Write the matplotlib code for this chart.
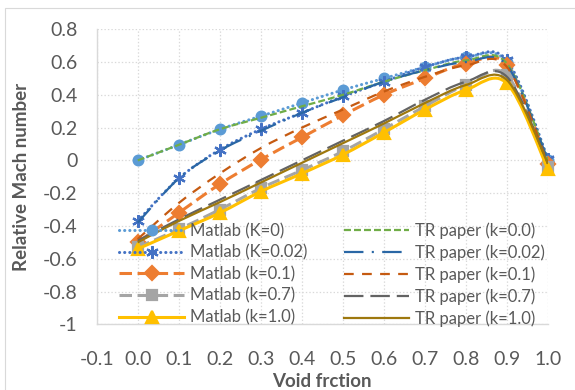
import numpy as np
import matplotlib
matplotlib.use("Agg")
import matplotlib.pyplot as plt
from matplotlib.path import Path
from matplotlib.patches import PathPatch, Rectangle
from matplotlib.lines import Line2D

plt.rcParams['font.family'] = ['Lato', 'DejaVu Sans']
plt.rcParams['lines.scale_dashes'] = False

# void fraction
void = [0.0, 0.1, 0.2, 0.3, 0.4, 0.5, 0.6, 0.7, 0.8, 0.9, 1.0]

# Matlab results
matlab_k0 = [0.0, 0.095, 0.19, 0.27, 0.35, 0.43, 0.50, 0.57, 0.63, 0.60, 0.0]
matlab_k002 = [-0.37, -0.11, 0.065, 0.19, 0.29, 0.39, 0.48, 0.57, 0.63, 0.61, 0.01]
matlab_k01 = [-0.50, -0.32, -0.145, 0.005, 0.14, 0.275, 0.40, 0.50, 0.59, 0.58, -0.02]
matlab_k07 = [-0.53, -0.42, -0.30, -0.17, -0.06, 0.055, 0.19, 0.33, 0.46, 0.52, -0.04]
matlab_k10 = [-0.54, -0.43, -0.32, -0.19, -0.08, 0.035, 0.17, 0.31, 0.43, 0.47, -0.055]

# TR paper results
tr_k0 = [0.0, 0.095, 0.19, 0.26, 0.33, 0.40, 0.48, 0.55, 0.61, 0.59, 0.0]
tr_k002 = [-0.38, -0.11, 0.06, 0.18, 0.29, 0.385, 0.48, 0.55, 0.60, 0.58, 0.0]
tr_k01 = [-0.48, -0.26, -0.08, 0.075, 0.20, 0.31, 0.42, 0.51, 0.58, 0.57, -0.02]
tr_k07 = [-0.49, -0.36, -0.24, -0.12, 0.0, 0.12, 0.24, 0.37, 0.48, 0.51, -0.02]
tr_k10 = [-0.50, -0.37, -0.255, -0.135, -0.015, 0.105, 0.225, 0.35, 0.46, 0.49, -0.02]

xticks = [-0.1, 0.0, 0.1, 0.2, 0.3, 0.4, 0.5, 0.6, 0.7, 0.8, 0.9, 1.0]
yticks = [0.8, 0.6, 0.4, 0.2, 0, -0.2, -0.4, -0.6, -0.8, -1]


def smooth_path(xs, ys):
    # excel style smoothed line (bezier through the points)
    pts = np.column_stack([xs, ys])
    n = len(pts)
    verts = [pts[0]]
    codes = [Path.MOVETO]
    for i in range(n - 1):
        p0 = pts[i - 1] if i > 0 else pts[i]
        p1 = pts[i]
        p2 = pts[i + 1]
        p3 = pts[i + 2] if i + 2 < n else pts[i + 1]
        verts += [p1 + (p2 - p0) / 6, p2 - (p3 - p1) / 6, p2]
        codes += [Path.CURVE4] * 3
    return Path(verts, codes)


series = [
    # label, data, color, lw, dashes, capstyle, marker, ms
    ('Matlab (K=0)', matlab_k0, '#5B9BD5', 2.2, (0, (0.1, 3.6)), 'round', 'o', 7),
    ('Matlab (K=0.02)', matlab_k002, '#4472C4', 2.2, (0, (0.1, 3.6)), 'round', (6, 2, 0), 9),
    ('Matlab (k=0.1)', matlab_k01, '#ED7D31', 2.2, (0, (9, 4)), 'butt', 'D', 7),
    ('Matlab (k=0.7)', matlab_k07, '#A5A5A5', 2.2, (0, (9, 4)), 'butt', 's', 7),
    ('Matlab (k=1.0)', matlab_k10, '#FFC000', 2.2, '-', 'butt', '^', 9),
    ('TR paper (k=0.0)', tr_k0, '#70AD47', 1.6, (0, (5, 2.2)), 'butt', None, 0),
    ('TR paper (k=0.02)', tr_k002, '#2A67A5', 1.6, (0, (14, 6, 1.5, 6)), 'butt', None, 0),
    ('TR paper (k=0.1)', tr_k01, '#C55A11', 1.6, (0, (7, 6)), 'butt', None, 0),
    ('TR paper (k=0.7)', tr_k07, '#636363', 1.6, (0, (14, 5)), 'butt', None, 0),
    ('TR paper (k=1.0)', tr_k10, '#9E780E', 1.6, '-', 'butt', None, 0),
]

fig = plt.figure(figsize=(5.75, 3.9), dpi=100)
fig.patches.append(Rectangle((5 / 575, -0.1), 1.2, 1 - 8 / 390 + 0.1, transform=fig.transFigure,
                             fill=False, edgecolor='#D9D9D9', lw=0.8))
ax = fig.add_axes([96.7 / 575, 1 - 324.3 / 390, 451.3 / 575, 295 / 390])

handles = []
for z, (label, ys, color, lw, ls, cap, marker, ms) in enumerate(series):
    patch = PathPatch(smooth_path(void, ys), fill=False, edgecolor=color, lw=lw,
                      linestyle=ls, capstyle=cap, zorder=3 + z * 0.1)
    ax.add_patch(patch)
    if marker is not None:
        ax.plot(void, ys, linestyle='none', marker=marker, ms=ms, color=color,
                markeredgecolor=color, mew=1.6, clip_on=False, zorder=3 + z * 0.1 + 0.05)
    handles.append(Line2D([], [], color=color, lw=lw, linestyle=ls, dash_capstyle=cap,
                          marker=marker, ms=ms, mew=1.6, markeredgecolor=color, label=label))

ax.set_xlim(-0.1, 1.0)
ax.set_ylim(-1, 0.8)
ax.set_xticks(xticks)
ax.set_xticklabels(['%.1f' % v for v in xticks])
ax.set_yticks(yticks)
ax.set_yticklabels(['%g' % v for v in yticks])
ax.tick_params(length=0, labelsize=14, labelcolor='#595959')
ax.tick_params(axis='y', pad=14)
ax.tick_params(axis='x', pad=19)
ax.grid(True, color='#D9D9D9', linestyle=(0, (1, 1.5)), lw=0.9)
ax.set_axisbelow(True)
for s in ['top', 'right']:
    ax.spines[s].set_visible(False)
for s in ['left', 'bottom']:
    ax.spines[s].set_color('#D9D9D9')
    ax.spines[s].set_linewidth(1.0)

ax.set_xlabel('Void frction', fontsize=13.5, fontweight='bold', color='#595959', labelpad=4)
ax.set_ylabel('Relative Mach number', fontsize=13.5, fontweight='bold', color='#595959', labelpad=9)

leg = ax.legend(handles=handles, ncol=2, loc='lower left', bbox_to_anchor=(0.05, -0.01),
                frameon=False, fontsize=12, handlelength=3.9, handletextpad=0.35,
                columnspacing=2.2, labelspacing=0.33, borderpad=0, numpoints=1,
                borderaxespad=0)
for t in leg.get_texts():
    t.set_color('#595959')

fig.savefig('out.png', dpi=100)
